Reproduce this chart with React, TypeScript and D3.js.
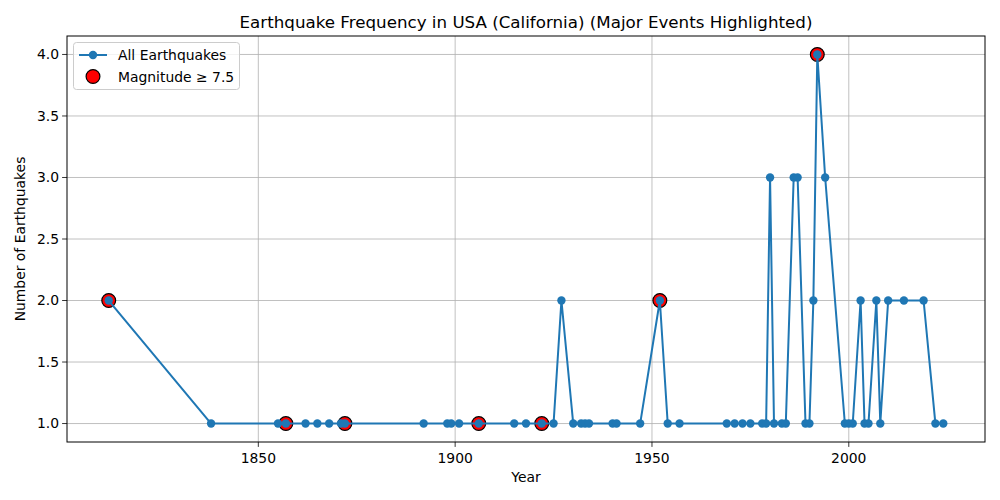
import React from "react";
import * as d3 from "d3";

const years = [1812, 1838, 1855, 1857, 1862, 1865, 1868, 1871, 1872, 1892, 1898, 1899, 1901, 1906, 1915, 1918, 1922, 1925, 1927, 1930, 1932, 1933, 1934, 1940, 1941, 1947, 1952, 1954, 1957, 1969, 1971, 1973, 1975, 1978, 1979, 1980, 1981, 1983, 1984, 1986, 1987, 1989, 1990, 1991, 1992, 1994, 1999, 2000, 2001, 2003, 2004, 2005, 2007, 2008, 2010, 2014, 2019, 2022, 2024];
const counts = [2, 1, 1, 1, 1, 1, 1, 1, 1, 1, 1, 1, 1, 1, 1, 1, 1, 1, 2, 1, 1, 1, 1, 1, 1, 1, 2, 1, 1, 1, 1, 1, 1, 1, 1, 3, 1, 1, 1, 3, 3, 1, 1, 2, 4, 3, 1, 1, 1, 2, 1, 1, 2, 1, 2, 2, 2, 1, 1];
const majorYears = [1812, 1857, 1872, 1906, 1922, 1952, 1992];
const xTicks = [1850, 1900, 1950, 2000];
const yTicks = [1.0, 1.5, 2.0, 2.5, 3.0, 3.5, 4.0];

const W = 1000, H = 500;
const L = 67, R = 985, T = 36, B = 442;
const BLUE = "#1f77b4";
const FONT = "DejaVu Sans, sans-serif";

export default function App() {
  const xMin = d3.min(years)!, xMax = d3.max(years)!;
  const xPad = (xMax - xMin) * 0.05;
  const x = d3.scaleLinear().domain([xMin - xPad, xMax + xPad]).range([L, R]);
  const yMin = d3.min(counts)!, yMax = d3.max(counts)!;
  const yPad = (yMax - yMin) * 0.05;
  const y = d3.scaleLinear().domain([yMin - yPad, yMax + yPad]).range([B, T]);

  const data = years.map((yr, i) => ({ yr, c: counts[i] }));
  const major = data.filter((d) => majorYears.includes(d.yr));
  const line = d3.line<{ yr: number; c: number }>().x((d) => x(d.yr)).y((d) => y(d.c));

  return (
    <svg width={W} height={H} style={{ position: "absolute", left: 0, top: 0, background: "#fff" }} fontFamily={FONT}>
      <rect x={0} y={0} width={W} height={H} fill="#fff" />
      {/* grid */}
      {xTicks.map((t) => (
        <line key={"gx" + t} x1={x(t)} x2={x(t)} y1={T} y2={B} stroke="#b0b0b0" strokeWidth={0.8} />
      ))}
      {yTicks.map((t) => (
        <line key={"gy" + t} x1={L} x2={R} y1={y(t)} y2={y(t)} stroke="#b0b0b0" strokeWidth={0.8} />
      ))}
      <clipPath id="clip">
        <rect x={L} y={T} width={R - L} height={B - T} />
      </clipPath>
      <g>
        {major.map((d) => (
          <circle key={"m" + d.yr} cx={x(d.yr)} cy={y(d.c)} r={6.9} fill="red" stroke="#000" strokeWidth={1.2} />
        ))}
        <path d={line(data)!} fill="none" stroke={BLUE} strokeWidth={2} strokeLinejoin="round" strokeLinecap="square" />
        {data.map((d) => (
          <circle key={"p" + d.yr} cx={x(d.yr)} cy={y(d.c)} r={4.2} fill={BLUE} />
        ))}
      </g>
      {/* axes frame */}
      <rect x={L} y={T} width={R - L} height={B - T} fill="none" stroke="#000" strokeWidth={1} />
      {/* x ticks */}
      {xTicks.map((t) => (
        <g key={"xt" + t}>
          <line x1={x(t)} x2={x(t)} y1={B} y2={B + 4.9} stroke="#000" strokeWidth={0.8} />
          <text x={x(t)} y={B + 21} textAnchor="middle" fontSize={13.9} fill="#000">{t}</text>
        </g>
      ))}
      {yTicks.map((t) => (
        <g key={"yt" + t}>
          <line x1={L - 4.9} x2={L} y1={y(t)} y2={y(t)} stroke="#000" strokeWidth={0.8} />
          <text x={L - 8} y={y(t) + 4.8} textAnchor="end" fontSize={13.9} fill="#000">{t.toFixed(1)}</text>
        </g>
      ))}
      <text x={(L + R) / 2} y={482} textAnchor="middle" fontSize={13.9}>Year</text>
      <text transform={`translate(25, ${(T + B) / 2}) rotate(-90)`} textAnchor="middle" fontSize={13.9}>Number of Earthquakes</text>
      <text x={(L + R) / 2} y={28} textAnchor="middle" fontSize={16.7}>Earthquake Frequency in USA (California) (Major Events Highlighted)</text>
      {/* legend */}
      <g>
        <rect x={73.5} y={42.5} width={166} height={47} rx={3} fill="#fff" fillOpacity={0.8} stroke="#cccccc" strokeWidth={1} />
        <line x1={79} x2={107} y1={55} y2={55} stroke={BLUE} strokeWidth={2} />
        <circle cx={93} cy={55} r={4.2} fill={BLUE} />
        <text x={118} y={60} fontSize={13.9}>All Earthquakes</text>
        <circle cx={93} cy={76.5} r={6.9} fill="red" stroke="#000" strokeWidth={1.2} />
        <text x={118} y={81.5} fontSize={13.9}>Magnitude ≥ 7.5</text>
      </g>
    </svg>
  );
}
